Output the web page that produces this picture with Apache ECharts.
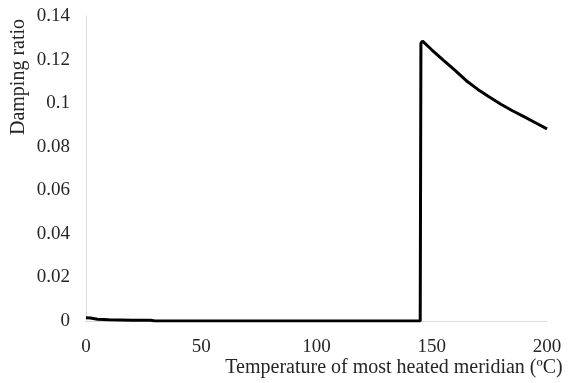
<!DOCTYPE html>
<html><head><meta charset="utf-8">
<script src="https://cdn.jsdelivr.net/npm/echarts@6/dist/echarts.min.js"></script>
<style>html,body{margin:0;padding:0;background:#fff}#c{width:569px;height:383px}</style>
</head><body><div id="c"></div>
<script>
var xValues = [0, 2, 5, 10, 20, 28, 30, 145, 145.3, 146, 150, 155, 160, 165, 170, 175, 180, 185, 190, 195, 200];
var yValues = [0.0015, 0.0014, 0.0008, 0.0006, 0.0004, 0.0003, 0, 0, 0.1275, 0.1285, 0.1245, 0.1198, 0.1152, 0.1103, 0.1063, 0.1028, 0.0995, 0.0965, 0.0938, 0.0910, 0.0882];
var xTicks = [0, 50, 100, 150, 200];
var yTicks = [0, 0.02, 0.04, 0.06, 0.08, 0.1, 0.12, 0.14];
var xTitle = 'Temperature of most heated meridian (ºC)';
var yTitle = 'Damping ratio';

var data = xValues.map(function(x, i){ return [x, yValues[i]]; });
var chart = echarts.init(document.getElementById('c'));
var font = '"Liberation Serif", "Times New Roman", serif';
chart.setOption({
  animation: false,
  grid: {left: 86, right: 22, top: 16, bottom: 62, containLabel: false},
  xAxis: {
    type: 'value', min: xTicks[0], max: xTicks[xTicks.length - 1], interval: xTicks[1] - xTicks[0],
    axisLine: {show: true, lineStyle: {color: '#d9d9d9', width: 1}},
    axisTick: {show: false}, splitLine: {show: false},
    axisLabel: {color: '#262626', fontFamily: font, fontSize: 19, margin: 17}
  },
  yAxis: {
    type: 'value', min: yTicks[0], max: yTicks[yTicks.length - 1], interval: 0.02,
    axisLine: {show: true, lineStyle: {color: '#d9d9d9', width: 1}},
    axisTick: {show: false}, splitLine: {show: false},
    axisLabel: {color: '#262626', fontFamily: font, fontSize: 19, margin: 16,
      formatter: function(v){ return String(+v.toFixed(2)); }}
  },
  graphic: [
    {type: 'text', x: 394, y: 368, style: {text: xTitle, fill: '#262626', font: '20px ' + font, textAlign: 'center', textVerticalAlign: 'middle'}},
    {type: 'text', x: 19, y: 77, rotation: Math.PI / 2, style: {text: yTitle, fill: '#262626', font: '20px ' + font, textAlign: 'center', textVerticalAlign: 'middle'}}
  ],
  series: [{
    type: 'line', data: data, showSymbol: false, smooth: false,
    lineStyle: {color: '#000', width: 3}
  }]
});
</script></body></html>
